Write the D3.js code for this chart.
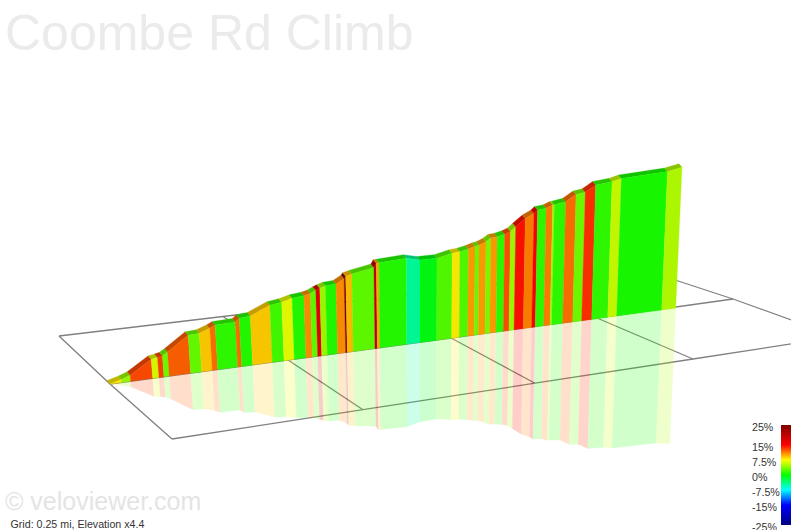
<!DOCTYPE html>
<html><head><meta charset="utf-8">
<script src="https://d3js.org/d3.v7.min.js"></script>
<style>html,body{margin:0;padding:0;background:#fff}svg{display:block}text{font-family:"Liberation Sans",Arial,sans-serif}</style>
</head><body><svg id="c" width="791" height="530"></svg>
<script>
// ---- data ----
const titleText = "Coombe Rd Climb";
const creditText = "\u00a9 veloviewer.com";
const noteText = "Grid: 0.25 mi, Elevation x4.4";
const gridMiles = [0, 0.25, 0.5, 0.75, 1];
const distanceMi = [0,.0164,.0291,.0600,.0688,.0758,.0833,.1133,.1288,.1437,.1513,.1794,.1850,.2004,.2280,.2444,.2597,.2776,.2873,.2956,.3017,.3103,.3262,.3385,.3409,.3502,.3834,.3870,.3911,.4321,.4524,.4781,.5012,.5142,.5286,.5399,.5467,.5582,.5663,.5771,.5896,.5993,.6079,.6238,.6382,.6443,.6587,.6695,.6724,.6913,.7084,.7238,.7409,.7697,.7862,.8689,.8947];
const elevationFt = [0,6,12,38,40,42,48,76,77,84,89,90,96,98,114,117,122,124,127,132,135,138,139,148,152,155,162,170,170,172,165,164,170,171,174,178,179,184,190,191,194,198,206,220,228,234,235,240,240,243,255,257,269,271,275,277,282];
const gradePct = [8,4.5,12.8,6.4,13,3.3,12.2,3,9,11.7,1.4,11.7,1,9,1.9,6.8,1,10.8,2.8,16.8,4.7,1,10.8,25,9.35,2.8,20,9.8,1,-4.5,-.5,2.4,8,2.4,10.3,3.3,10.3,3.8,10.3,1.4,12.6,4.7,14.5,11.25,15,1.4,11.25,5,1.4,11.7,3.3,13.6,1.4,5.9,.7,5.2];
const legendValues = [25,15,7.5,0,-7.5,-15,-25];
const legendColors = ["#800000","#ff0000","#ffff00","#00ff00","#00ffff","#0000ff","#000080"];
const legendLabels = ["25%","15%","7.5%","0%","-7.5%","-15%","-25%"];

// ---- scales ----
const color = d3.scaleLinear().domain(legendValues).range(legendColors);
const along = d3.scaleLinear().domain(gridMiles).range([110,288,451,597,733]);
const wallBase = d3.scaleLinear().domain([110,733]).range([384,300.5]);
const lift = d3.scaleLinear().domain([0,300]).range([0,150]);
const lean = d3.scaleLinear().domain([110,420,680]).range([-.09,0,.045]);
const backX = d3.scaleLinear().domain(gridMiles).range([59,223,375,510,637]);
const backY = d3.scaleLinear().domain(gridMiles).range([336,316.5,298.5,282.5,267.5]);
const midY = d3.scaleLinear().domain(gridMiles).range([384,360,338,318,299]);
const frontX = d3.scaleLinear().domain(gridMiles).range([172,363,535,693,838]);
const frontY = d3.scaleLinear().domain(gridMiles).range([439,409.7,383.2,359,336.7]);
const legendY = d3.scaleLinear().domain([25,-25]).range([425,525]);

const svg = d3.select("#c");
const poly = d3.line();
const face = g => d3.color(color(g)).darker(.1).formatRgb();
const topFace = g => d3.color(color(g)).darker(.75).formatRgb();

// ---- grid ----
const rails = [
  m => [backX(m), backY(m)],
  m => [along(m), midY(m)],
  m => [frontX(m), frontY(m)]
];
const gridLines = [
  ...rails.map(r => gridMiles.map(r)),
  ...gridMiles.map(m => rails.map(r => r(m)))
];
svg.append("g").selectAll("path").data(gridLines).join("path")
  .attr("d", d => poly(d)).attr("fill","none")
  .attr("stroke","#808080").attr("stroke-width",1.3);

// ---- wall geometry ----
const pts = distanceMi.map((m,i) => {
  const x = along(m), y = wallBase(x), h = lift(elevationFt[i]), l = lean(x);
  return {x, y, tx: x + h*l, ty: y - h, rx: x - .96*h*l, ry: y + .96*h};
});
const segs = gradePct.map((g,i) => ({g, a: pts[i], b: pts[i+1]}));

// reflection
svg.append("g").attr("opacity",.2).selectAll("path").data(segs).join("path")
  .attr("d", s => poly([[s.a.x,s.a.y],[s.b.x,s.b.y],[s.b.rx,s.b.ry],[s.a.rx,s.a.ry]])+"Z")
  .attr("fill", s => color(s.g)).attr("stroke", s => color(s.g)).attr("stroke-width",.3);

// top faces
const dx = -3, dy = -3.5;
svg.append("g").selectAll("path").data(segs).join("path")
  .attr("d", s => poly([[s.a.tx,s.a.ty],[s.b.tx,s.b.ty],[s.b.tx+dx,s.b.ty+dy],[s.a.tx+dx,s.a.ty+dy]])+"Z")
  .attr("fill", s => topFace(s.g)).attr("stroke", s => topFace(s.g)).attr("stroke-width",.3);

// front faces
svg.append("g").selectAll("path").data(segs).join("path")
  .attr("d", s => poly([[s.a.x,s.a.y],[s.b.x,s.b.y],[s.b.tx,s.b.ty],[s.a.tx,s.a.ty]])+"Z")
  .attr("fill", s => face(s.g)).attr("stroke", s => face(s.g)).attr("stroke-width",.3);

// ---- texts ----
svg.append("text").attr("x",5).attr("y",50).attr("font-size",50).attr("fill","#ebebeb").text(titleText);
svg.append("text").attr("x",5).attr("y",510).attr("font-size",25).attr("fill","#e4e4e4").text(creditText);
svg.append("text").attr("x",10.5).attr("y",528).attr("font-size",10.67).attr("fill","#333").text(noteText);

// ---- legend ----
const grad = svg.append("defs").append("linearGradient").attr("id","lg")
  .attr("x1",0).attr("y1",0).attr("x2",0).attr("y2",1);
grad.selectAll("stop").data(legendValues).join("stop")
  .attr("offset", v => (legendY(v)-legendY(25))/(legendY(-25)-legendY(25)))
  .attr("stop-color", v => color(v));
svg.append("rect").attr("x",781).attr("y",legendY(25)).attr("width",10)
  .attr("height",legendY(-25)-legendY(25)).attr("fill","url(#lg)");
svg.append("g").selectAll("text").data(legendValues).join("text")
  .attr("x",752).attr("y",v => legendY(v)+5.5).attr("font-size",10.67).attr("fill","#333")
  .text((v,i) => legendLabels[i]);
</script></body></html>
